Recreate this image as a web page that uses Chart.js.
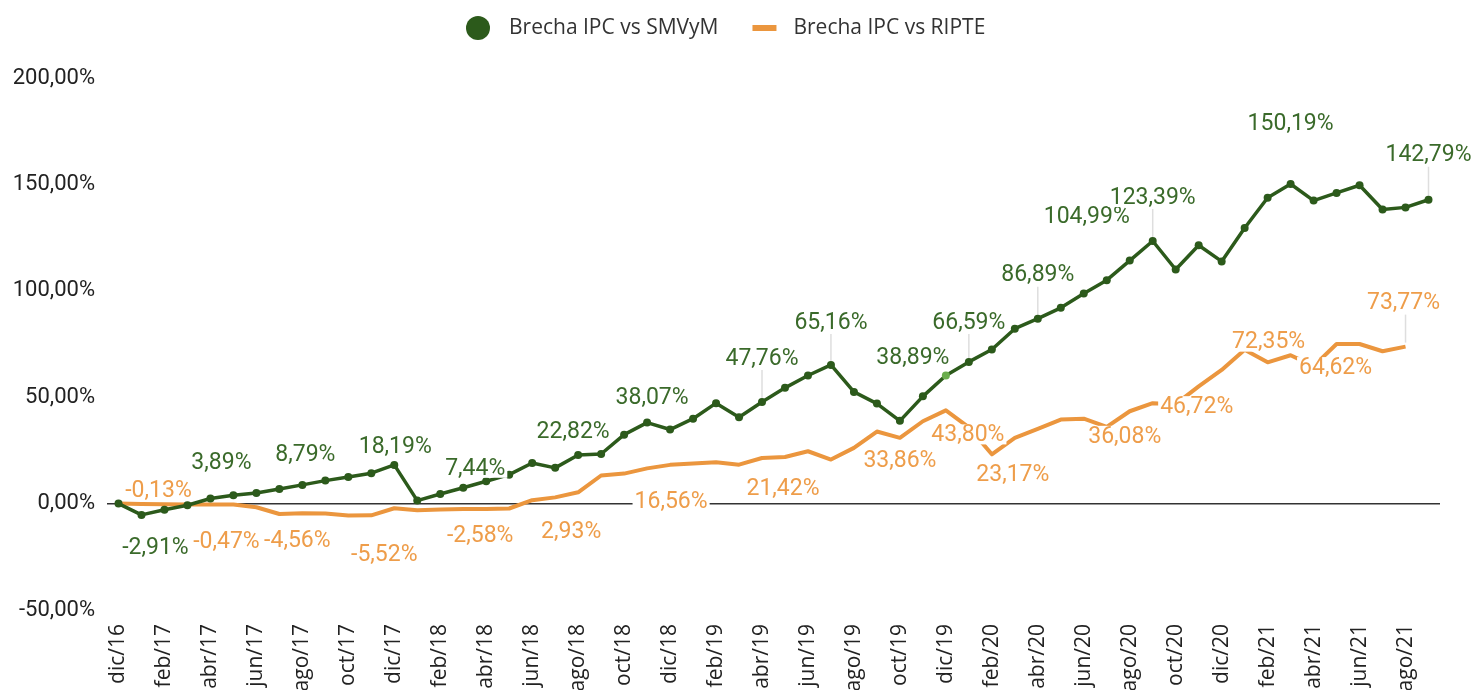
<!DOCTYPE html>
<html lang="es">
<head>
<meta charset="UTF-8">
<title>Brecha IPC vs SMVyM / RIPTE</title>
<script src="https://cdn.jsdelivr.net/npm/chart.js"></script>
<style>
  html, body { margin: 0; padding: 0; background: #fff; overflow: hidden; }
  #contenedor { width: 1475px; height: 690px; position: relative; }
</style>
</head>
<body>
<div id="contenedor"><canvas id="grafico"></canvas></div>
<script>
// meses (dic/16 .. sep/21)
const meses = [
  'dic/16','ene/17','feb/17','mar/17','abr/17','may/17','jun/17','jul/17','ago/17','sep/17','oct/17','nov/17',
  'dic/17','ene/18','feb/18','mar/18','abr/18','may/18','jun/18','jul/18','ago/18','sep/18','oct/18','nov/18',
  'dic/18','ene/19','feb/19','mar/19','abr/19','may/19','jun/19','jul/19','ago/19','sep/19','oct/19','nov/19',
  'dic/19','ene/20','feb/20','mar/20','abr/20','may/20','jun/20','jul/20','ago/20','sep/20','oct/20','nov/20',
  'dic/20','ene/21','feb/21','mar/21','abr/21','may/21','jun/21','jul/21','ago/21','sep/21'
];

const brechaSMVyM = [
  0, -5.3, -2.91, -0.8, 2.4, 3.89, 5.0, 6.9, 8.79, 10.8, 12.5, 14.3,
  18.19, 1.4, 4.5, 7.44, 10.5, 13.6, 19.1, 16.8, 22.82, 23.3, 32.4, 38.07,
  34.8, 39.9, 47.2, 40.6, 47.76, 54.4, 60.2, 65.16, 52.5, 47.0, 38.89, 50.4,
  60.2, 66.59, 72.4, 82.2, 86.89, 92.0, 98.7, 104.99, 114.2, 123.39, 110.0, 121.4,
  113.8, 129.5, 143.7, 150.19, 142.4, 146.0, 149.6, 138.2, 139.2, 142.79
];

const brechaRIPTE = [
  0, -0.13, -0.3, -0.4, -0.4, -0.47, -1.7, -4.9, -4.56, -4.6, -5.6, -5.52,
  -2.2, -3.1, -2.8, -2.5, -2.58, -2.3, 1.6, 2.93, 5.3, 13.2, 14.1, 16.56,
  18.2, 18.8, 19.4, 18.3, 21.42, 21.9, 24.6, 20.7, 26.2, 33.86, 30.9, 38.7,
  43.80, 35.8, 23.17, 30.9, 35.1, 39.5, 39.9, 36.08, 43.4, 47.2, 46.72, 55.1,
  62.8, 72.35, 66.4, 69.7, 64.62, 75.0, 75.0, 71.6, 73.77, null
];

const ticksY = [-50, 0, 50, 100, 150, 200];
const nombres = ['Brecha IPC vs SMVyM', 'Brecha IPC vs RIPTE'];

// puntos con etiqueta
const etiquetasSMVyM = [2, 5, 8, 12, 15, 20, 23, 28, 31, 34, 37, 40, 43, 45, 51, 57];
const etiquetasRIPTE = [1, 5, 8, 11, 16, 19, 23, 28, 33, 36, 38, 43, 46, 49, 52, 56];

// desplazamiento de cada etiqueta respecto a su punto [dx, dy, linea guia]
const posSMVyM = [[-9,37],[-12,-33],[3,-31],[1,-19],[12,-20],[-5,-24],[5,-25],[0,-44,1],
  [0,-43,1],[13,-64],[0,-40,1],[0,-44,1],[-20,-64],[0,-44,1],[0,-61],[0,-45,1]];
const posRIPTE = [[17,-14],[-7,37],[-5,27],[13,39],[-6,26],[16,34],[24,33],[21,30],
  [23,29],[22,24],[21,20],[18,9],[21,2],[24,-8],[22,1],[-2,-44,1]];

const verde = '#2c5a1b';
const verdeTexto = '#3a6a2a';
const verdeClaro = '#6aad4c';
const naranja = '#eb963e';
const naranjaTexto = '#ee9d4a';

function formato(v) {
  return v.toFixed(2).replace('.', ',') + '%';
}

// leyenda dibujada a mano (circulo / guion + texto)
const leyenda = {
  id: 'leyenda',
  afterDraw(chart) {
    const ctx = chart.ctx;
    ctx.save();
    ctx.font = '21px "Open Sans"';
    ctx.textBaseline = 'middle';
    ctx.textAlign = 'left';
    const y = 28;
    const w0 = ctx.measureText(nombres[0]).width;
    let x = 466;
    ctx.fillStyle = verde;
    ctx.beginPath();
    ctx.arc(x + 12, y, 12, 0, Math.PI * 2);
    ctx.fill();
    ctx.fillStyle = '#333';
    ctx.fillText(nombres[0], x + 43, y);
    x = x + 43 + w0 + 34;
    ctx.strokeStyle = naranja;
    ctx.lineWidth = 6;
    ctx.beginPath();
    ctx.moveTo(x, y);
    ctx.lineTo(x + 24, y);
    ctx.stroke();
    ctx.fillText(nombres[1], x + 41, y);
    ctx.restore();
  }
};

const etiquetas = {
  id: 'etiquetas',
  beforeDatasetsDraw(chart) {
    const ctx = chart.ctx;
    ctx.save();
    ctx.strokeStyle = '#dedede';
    ctx.lineWidth = 1.5;
    [[0, etiquetasSMVyM, posSMVyM], [1, etiquetasRIPTE, posRIPTE]].forEach(([ds, idx, pos]) => {
      const meta = chart.getDatasetMeta(ds);
      idx.forEach((i, k) => {
        if (!pos[k][2]) return;
        const p = meta.data[i];
        ctx.beginPath();
        ctx.moveTo(p.x, p.y + pos[k][1] + 12);
        ctx.lineTo(p.x, p.y - 4);
        ctx.stroke();
      });
    });
    ctx.restore();
  },
  afterDatasetsDraw(chart) {
    const ctx = chart.ctx;
    ctx.save();
    ctx.font = '23px Roboto';
    ctx.textAlign = 'center';
    ctx.textBaseline = 'middle';
    const series = [
      [0, etiquetasSMVyM, posSMVyM, brechaSMVyM, verdeTexto],
      [1, etiquetasRIPTE, posRIPTE, brechaRIPTE, naranjaTexto]
    ];
    series.forEach(([ds, idx, pos, valores, color]) => {
      const meta = chart.getDatasetMeta(ds);
      idx.forEach((i, k) => {
        const p = meta.data[i];
        const txt = formato(valores[i]);
        const x = p.x + pos[k][0];
        const y = p.y + pos[k][1];
        const w = ctx.measureText(txt).width;
        ctx.fillStyle = '#fff';
        ctx.fillRect(x - w / 2 - 2, y - 10, w + 4, 20);
        ctx.fillStyle = color;
        ctx.fillText(txt, x, y + 1);
      });
    });
    ctx.restore();
  }
};

const coloresPuntos = brechaSMVyM.map((v, i) => i === 36 ? verdeClaro : verde);

new Chart(document.getElementById('grafico'), {
  type: 'line',
  data: {
    labels: meses,
    datasets: [
      {
        label: nombres[0],
        data: brechaSMVyM,
        borderColor: verde,
        borderWidth: 3.5,
        pointRadius: 4,
        pointBorderWidth: 0,
        pointBackgroundColor: coloresPuntos,
        tension: 0,
        borderJoinStyle: 'round'
      },
      {
        label: nombres[1],
        data: brechaRIPTE,
        borderColor: naranja,
        borderWidth: 4,
        pointRadius: 0,
        tension: 0,
        borderJoinStyle: 'round'
      }
    ]
  },
  options: {
    responsive: true,
    maintainAspectRatio: false,
    animation: false,
    events: [],
    layout: { padding: { top: 78, right: 35 } },
    plugins: {
      tooltip: { enabled: false },
      legend: { display: false }
    },
    scales: {
      x: {
        offset: true,
        grid: { display: false, drawTicks: false },
        border: { display: false },
        afterFit(scale) { scale.height = 80; },
        ticks: {
          autoSkip: false,
          minRotation: 90,
          maxRotation: 90,
          padding: 14,
          color: '#222',
          font: { family: 'Open Sans', size: 21 },
          callback: function (v, i) { return i % 2 === 0 ? meses[i] : ''; }
        }
      },
      y: {
        min: ticksY[0],
        max: ticksY[ticksY.length - 1],
        afterFit(scale) { scale.width = 107; },
        afterBuildTicks(scale) { scale.ticks = ticksY.map(v => ({ value: v })); },
        grid: {
          drawTicks: false,
          lineWidth: 1.5,
          color: c => (c.tick && c.tick.value === 0) ? '#333' : 'rgba(0,0,0,0)'
        },
        border: { display: false },
        ticks: {
          padding: 12,
          color: '#222',
          font: { family: 'Roboto', size: 22 },
          callback: v => formato(v)
        }
      }
    }
  },
  plugins: [etiquetas, leyenda]
});
</script>
</body>
</html>
